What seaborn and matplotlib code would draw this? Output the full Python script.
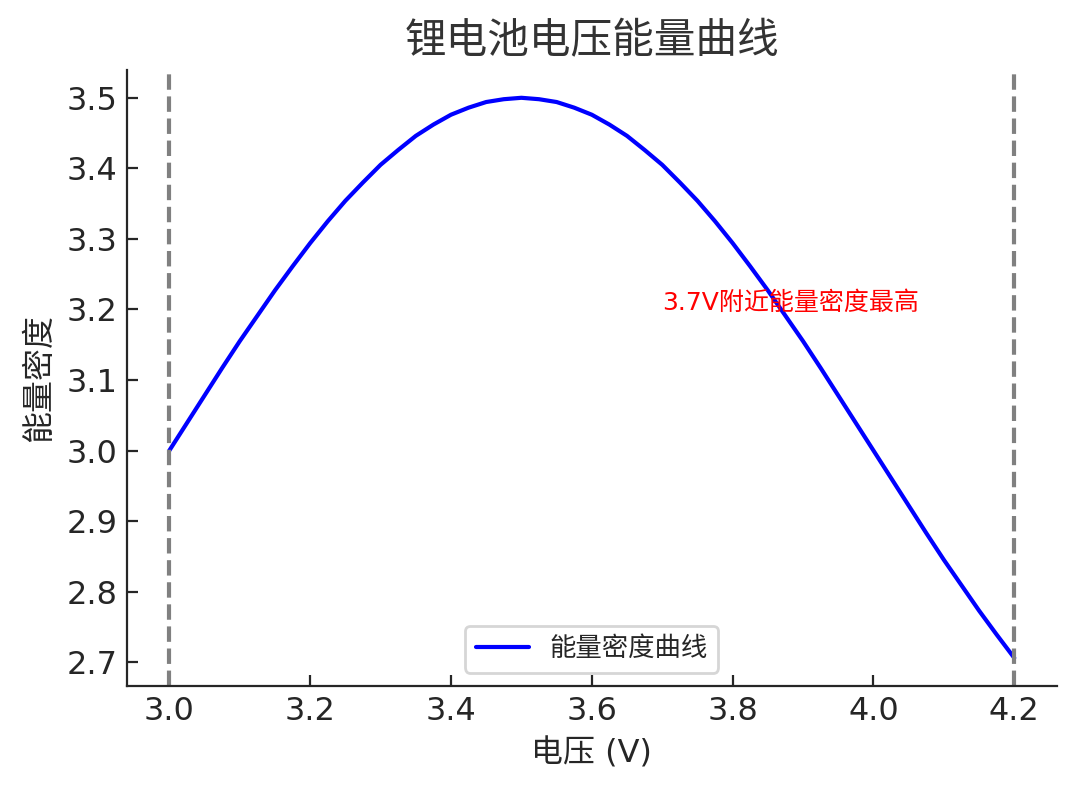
import matplotlib
matplotlib.use("Agg")
import matplotlib.pyplot as plt
import seaborn as sns
import pandas as pd

# Data
voltage = [3.000, 3.025, 3.050, 3.075, 3.100, 3.125, 3.150, 3.175, 3.200, 3.225,
           3.250, 3.275, 3.300, 3.325, 3.350, 3.375, 3.400, 3.425, 3.450, 3.475,
           3.500, 3.525, 3.550, 3.575, 3.600, 3.625, 3.650, 3.675, 3.700, 3.725,
           3.750, 3.775, 3.800, 3.825, 3.850, 3.875, 3.900, 3.925, 3.950, 3.975,
           4.000, 4.025, 4.050, 4.075, 4.100, 4.125, 4.150, 4.175, 4.200]
energy = [3.000, 3.039, 3.078, 3.117, 3.155, 3.191, 3.227, 3.261, 3.294, 3.325,
          3.354, 3.380, 3.405, 3.426, 3.446, 3.462, 3.476, 3.486, 3.494, 3.498,
          3.500, 3.498, 3.494, 3.486, 3.476, 3.462, 3.446, 3.426, 3.405, 3.380,
          3.354, 3.325, 3.294, 3.261, 3.227, 3.191, 3.155, 3.117, 3.078, 3.039,
          3.000, 2.961, 2.922, 2.883, 2.845, 2.809, 2.773, 2.739, 2.706]
vlines_x = [3.0, 4.2]

title_text = "锂电池电压能量曲线"
xlabel_text = "电压 (V)"
ylabel_text = "能量密度"
legend_text = "能量密度曲线"
note_text = "3.7V附近能量密度最高"
note_pos = (3.7, 3.2)

sns.set_style("ticks", {"xtick.direction": "in", "ytick.direction": "in"})
plt.rcParams["font.family"] = ["DejaVu Sans", "Noto Sans CJK SC"]

df = pd.DataFrame({"voltage": voltage, "energy": energy})

fig = plt.figure(figsize=(5.385, 3.965), dpi=200)
ax = fig.add_axes([0.118, 0.135, 0.863, 0.777])

sns.lineplot(data=df, x="voltage", y="energy", color="blue", linewidth=1.5,
             label=legend_text, ax=ax)
for xv in vlines_x:
    ax.axvline(xv, color="gray", linestyle="--", linewidth=1.5)

ax.text(note_pos[0], note_pos[1], note_text, color="red", fontsize=9)

ax.set_title(title_text, fontsize=15, color="#333333")
ax.set_xlabel(xlabel_text, fontsize=11.5, color="#262626")
ax.set_ylabel(ylabel_text, fontsize=11.5, color="#262626")
ax.tick_params(labelsize=11.5, colors="#262626", length=4)
ax.set_xticks([3.0, 3.2, 3.4, 3.6, 3.8, 4.0, 4.2])
ax.legend(loc="lower center", fontsize=9.5)
sns.despine(ax=ax)

fig.savefig("out.png", dpi=200)
